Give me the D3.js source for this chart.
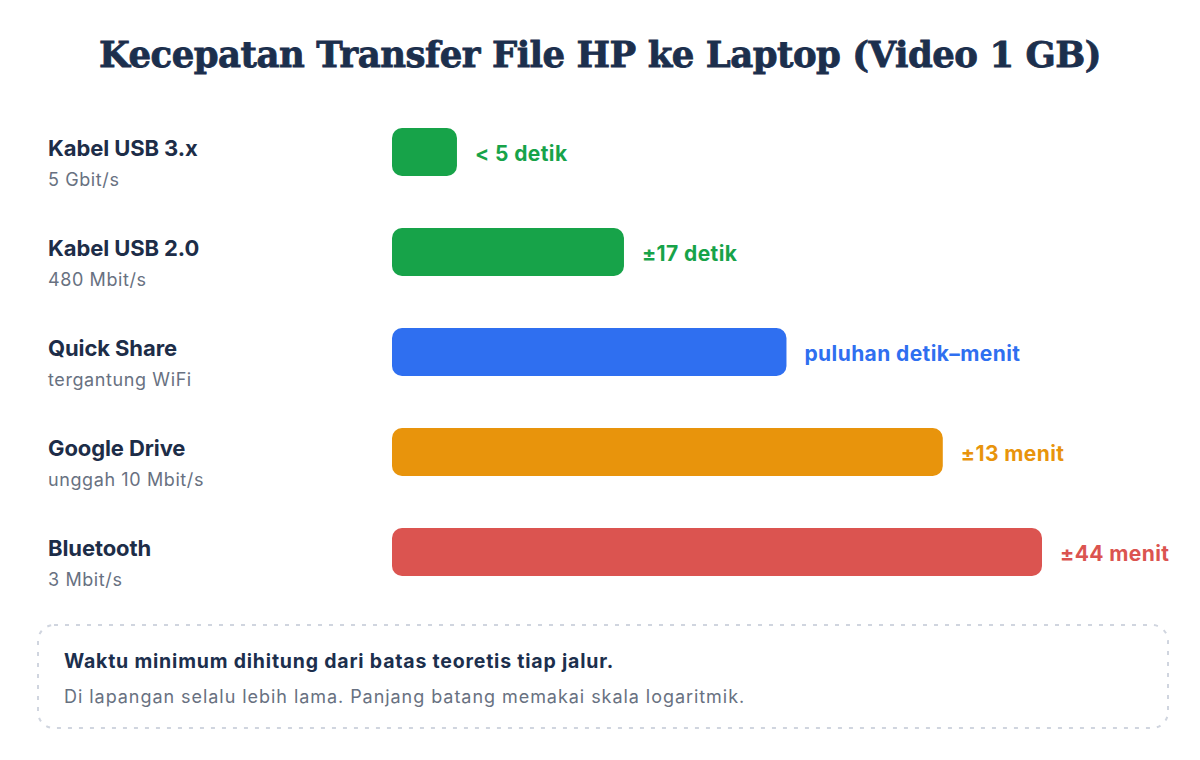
<!DOCTYPE html>
<html>
<head>
<meta charset="utf-8">
<script src="https://cdn.jsdelivr.net/npm/d3@7"></script>
<style>
  body { margin: 0; background: #ffffff; }
  svg { display: block; }
</style>
</head>
<body>
<svg id="chart"></svg>
<script>
// data
const methods = ["Kabel USB 3.x", "Kabel USB 2.0", "Quick Share", "Google Drive", "Bluetooth"];
const subtitles = ["5 Gbit/s", "480 Mbit/s", "tergantung WiFi", "unggah 10 Mbit/s", "3 Mbit/s"];
const seconds = [2.2, 16.7, 120, 800, 2667]; // waktu transfer, detik
const valueLabels = ["< 5 detik", "±17 detik", "puluhan detik–menit", "±13 menit", "±44 menit"];
const barColors = ["#17a349", "#17a349", "#2f6ff0", "#e8940c", "#db5450"];

const titleText = "Kecepatan Transfer File HP ke Laptop (Video 1 GB)";
const noteTitle = "Waktu minimum dihitung dari batas teoretis tiap jalur.";
const noteText = "Di lapangan selalu lebih lama. Panjang batang memakai skala logaritmik.";

const width = 1200, height = 760;
const sans = "Inter, 'Noto Sans', sans-serif";
const navy = "#1c2f4d";

const svg = d3.select("#chart")
    .attr("width", width)
    .attr("height", height);

// title
svg.append("text")
    .attr("x", width / 2)
    .attr("y", 67)
    .attr("text-anchor", "middle")
    .style("font-family", "'DejaVu Serif', serif")
    .style("font-weight", 700)
    .style("font-size", "35.5px")
    .style("letter-spacing", "-0.5px")
    .style("fill", navy)
    .style("stroke", navy)
    .style("stroke-width", 0.8)
    .text(titleText);

const x = d3.scaleLog()
    .domain([1, 2667])
    .range([392, 1042]);

const y = d3.scaleBand()
    .domain(methods)
    .range([102, 602])
    .paddingInner(0.52)
    .paddingOuter(0.26);

const rows = svg.append("g")
    .selectAll("g")
    .data(methods)
    .join("g");

rows.append("rect")
    .attr("x", x(1))
    .attr("y", d => y(d))
    .attr("width", (d, i) => x(seconds[i]) - x(1))
    .attr("height", y.bandwidth())
    .attr("rx", 10)
    .style("fill", (d, i) => barColors[i]);

rows.append("text")
    .attr("x", (d, i) => x(seconds[i]) + 18)
    .attr("y", d => y(d) + y.bandwidth() / 2)
    .attr("dy", "0.44em")
    .style("font-family", sans)
    .style("font-weight", 700)
    .style("font-size", "21px")
    .style("letter-spacing", "0.4px")
    .style("fill", (d, i) => barColors[i])
    .text((d, i) => valueLabels[i]);

rows.append("text")
    .attr("x", 48)
    .attr("y", d => y(d) + y.bandwidth() / 2 + 4)
    .style("font-family", sans)
    .style("font-weight", 700)
    .style("font-size", "22px")
    .style("letter-spacing", "-0.1px")
    .style("fill", "#1d2d48")
    .text(d => d);

rows.append("text")
    .attr("x", 48)
    .attr("y", d => y(d) + y.bandwidth() / 2 + 34)
    .style("font-family", sans)
    .style("font-size", "18px")
    .style("letter-spacing", "0.6px")
    .style("fill", "#687181")
    .text((d, i) => subtitles[i]);

// note box
const note = svg.append("g");
note.append("rect")
    .attr("x", 38)
    .attr("y", 625)
    .attr("width", 1130)
    .attr("height", 103)
    .attr("rx", 16)
    .style("fill", "none")
    .style("stroke", "#d0d5df")
    .style("stroke-width", 2)
    .style("stroke-dasharray", "4 7");

note.append("text")
    .attr("x", 64)
    .attr("y", 668)
    .style("font-family", sans)
    .style("font-weight", 700)
    .style("font-size", "19.5px")
    .style("letter-spacing", "0.8px")
    .style("fill", navy)
    .text(noteTitle);

note.append("text")
    .attr("x", 64)
    .attr("y", 703)
    .style("font-family", sans)
    .style("font-size", "18px")
    .style("letter-spacing", "0.95px")
    .style("fill", "#687181")
    .text(noteText);
</script>
</body>
</html>
